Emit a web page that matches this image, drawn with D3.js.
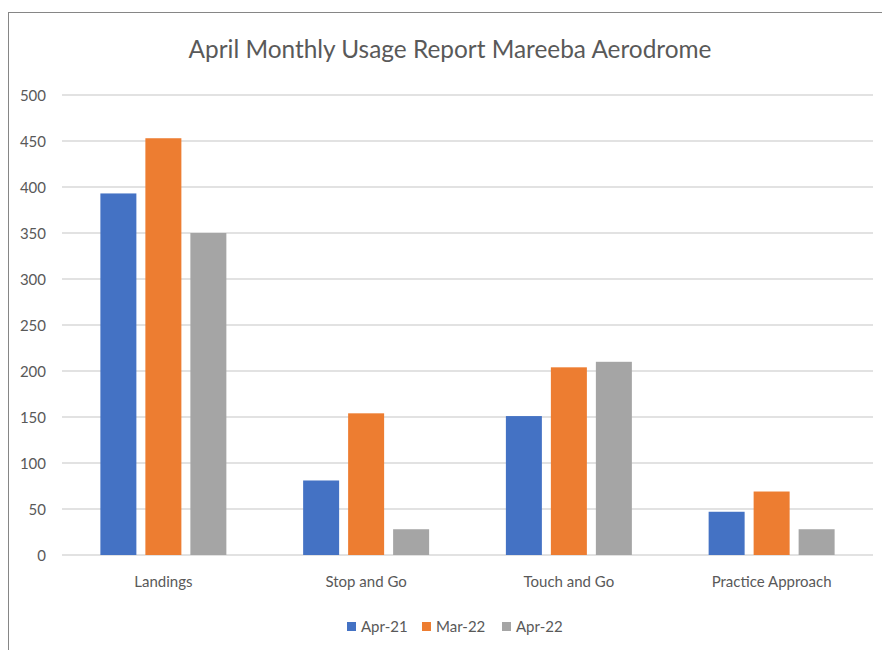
<!DOCTYPE html>
<html>
<head>
<meta charset="utf-8">
<script src="https://cdn.jsdelivr.net/npm/d3@7"></script>
<style>
  body { margin: 0; background: #fff; }
  text { font-family: Lato, "Open Sans", sans-serif; fill: #595959; }
</style>
</head>
<body>
<svg></svg>
<script>
var categories = ["Landings", "Stop and Go", "Touch and Go", "Practice Approach"]
var seriesNames = ["Apr-21", "Mar-22", "Apr-22"]
var apr21 = [393, 81, 151, 47]
var mar22 = [453, 154, 204, 69]
var apr22 = [350, 28, 210, 28]
var yTicks = [0, 50, 100, 150, 200, 250, 300, 350, 400, 450, 500]
var colours = ["#4472C4", "#ED7D31", "#A5A5A5"]

var seriesValues = [apr21, mar22, apr22]

var svg = d3.select("svg")
    .attr("width", 882)
    .attr("height", 650);

// bordo del grafico
svg.append("rect")
    .attr("x", 8.5)
    .attr("y", 12.5)
    .attr("width", 900)
    .attr("height", 700)
    .attr("fill", "none")
    .attr("stroke", "#868686")
    .attr("stroke-width", 1);

var plotLeft = 62, plotRight = 873, plotTop = 95, plotBottom = 555;

var y = d3.scaleLinear().domain([0, 500]).range([plotBottom, plotTop]);

var x = d3.scaleBand().domain(categories).range([plotLeft, plotRight]).padding(0);

var xs = d3.scaleBand().domain(seriesNames)
    .range([0, x.bandwidth()])
    .paddingInner(0.2)
    .paddingOuter(0.853);

// griglia
svg.append("g")
    .selectAll("line")
    .data(yTicks)
    .enter()
    .append("line")
    .attr("x1", plotLeft)
    .attr("x2", plotRight)
    .attr("y1", function (d) { return y(d); })
    .attr("y2", function (d) { return y(d); })
    .attr("stroke", "#d9d9d9")
    .attr("stroke-width", 1.3);

// asse y
var yAxis = d3.axisLeft(y).tickValues(yTicks).tickSize(0).tickPadding(0);
var gy = svg.append("g")
    .attr("transform", "translate(46,0)")
    .call(yAxis);
gy.select(".domain").remove();
gy.selectAll("text")
    .attr("font-size", "15px")
    .attr("font-family", "Lato")
    .attr("fill", "#595959")
    .attr("dy", "0.34em");

// barre
seriesNames.forEach(function (s, si) {
    svg.append("g")
        .selectAll("rect")
        .data(seriesValues[si])
        .enter()
        .append("rect")
        .attr("x", function (d, i) { return x(categories[i]) + xs(s); })
        .attr("y", function (d) { return y(d); })
        .attr("width", xs.bandwidth())
        .attr("height", function (d) { return y(0) - y(d); })
        .attr("fill", colours[si]);
});

// asse x
var xAxis = d3.axisBottom(x).tickSize(0).tickPadding(0);
var gx = svg.append("g")
    .attr("transform", "translate(0," + plotBottom + ")")
    .call(xAxis);
gx.select(".domain").remove();
gx.selectAll("text")
    .attr("font-size", "15px")
    .attr("font-family", "Lato")
    .attr("fill", "#595959")
    .attr("dy", "32px");

// titolo
svg.append("text")
    .attr("x", 450)
    .attr("y", 58)
    .attr("text-anchor", "middle")
    .attr("font-size", "24.4px")
    .text("April Monthly Usage Report Mareeba Aerodrome");

// legenda
var legendX = [347, 422, 502];
var legend = svg.append("g");
seriesNames.forEach(function (s, si) {
    legend.append("rect")
        .attr("x", legendX[si])
        .attr("y", 622)
        .attr("width", 9)
        .attr("height", 9)
        .attr("fill", colours[si]);
    legend.append("text")
        .attr("x", legendX[si] + 14)
        .attr("y", 632)
        .attr("font-size", "15px")
        .text(s);
});
</script>
</body>
</html>
